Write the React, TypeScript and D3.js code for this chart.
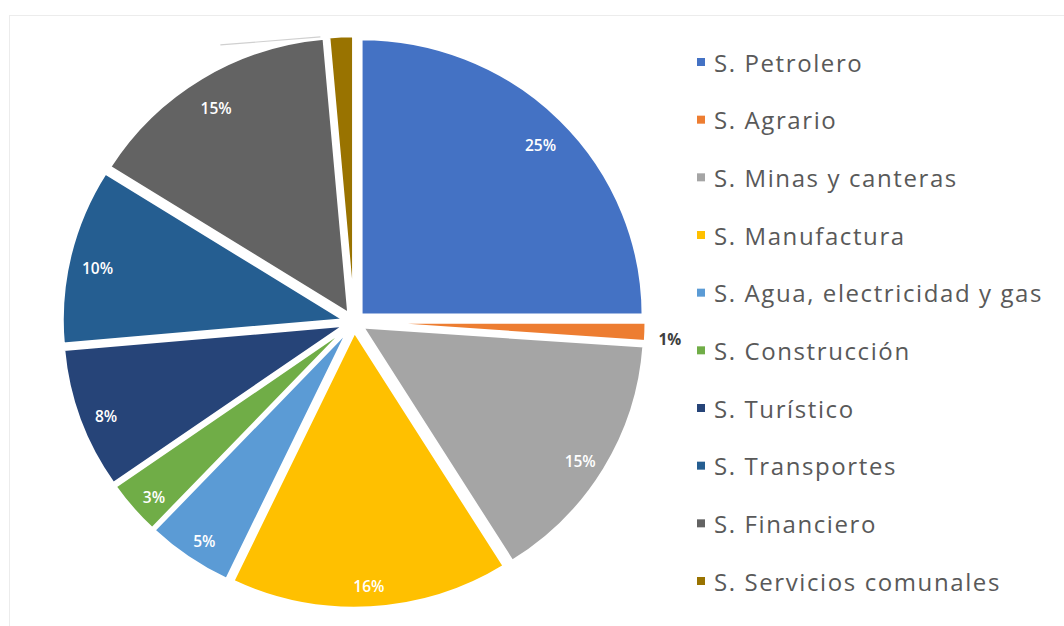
import React from "react";
import * as d3 from "d3";

const categories = [
  "S. Petrolero",
  "S. Agrario",
  "S. Minas y canteras",
  "S. Manufactura",
  "S. Agua, electricidad y gas",
  "S. Construcción",
  "S. Turístico",
  "S. Transportes",
  "S. Financiero",
  "S. Servicios comunales",
];
const values = [25, 1.1, 15, 16, 5, 3.2, 8.3, 10.3, 14.7, 1.4];
const labels = ["25%", "1%", "15%", "16%", "5%", "3%", "8%", "10%", "15%", ""];
const colors = [
  "#4472C4",
  "#ED7D31",
  "#A5A5A5",
  "#FFC000",
  "#5B9BD5",
  "#70AD47",
  "#264478",
  "#255E91",
  "#636363",
  "#997300",
];

const W = 1064;
const H = 626;
const FONT = "'Open Sans', Lato, 'DejaVu Sans', sans-serif";

export default function App() {
  const cx = 354;
  const cy = 322;
  const r = 282;
  const sy = 0.98;
  const explode = 10;

  const pie = d3.pie<number>().sort(null).value((d) => d);
  const arcs = pie(values);
  const arc = d3.arc<d3.PieArcDatum<number>>().innerRadius(0).outerRadius(r);

  const legendY = d3
    .scalePoint<string>()
    .domain(categories)
    .range([62, 581]);

  return (
    <svg
      width={W}
      height={H}
      style={{ position: "absolute", left: 0, top: 0, background: "#fff" }}
      fontFamily={FONT}
    >
      <rect x={9.5} y={15.5} width={W} height={H} fill="none" stroke="#ececec" />
      <g transform={`translate(${cx},${cy}) scale(1,${sy})`}>
        {arcs.map((a, i) => {
          const mid = (a.startAngle + a.endAngle) / 2;
          const ox = Math.sin(mid) * explode;
          const oy = -Math.cos(mid) * explode;
          return (
            <path
              key={i}
              d={arc(a) || ""}
              transform={`translate(${ox},${oy})`}
              fill={colors[i]}
              stroke="#fff"
              strokeWidth={3}
              strokeLinejoin="round"
            />
          );
        })}
      </g>
      {(() => {
        const a = arcs[8];
        const ang = a.endAngle;
        const x0 = cx + Math.sin(ang) * (r + explode) - 8;
        const y0 = cy - Math.cos(ang) * (r + explode) * sy;
        return (
          <line x1={x0} y1={y0} x2={x0 - 100} y2={y0 + 8} stroke="#d0d0d0" strokeWidth={1.2} />
        );
      })()}
      {arcs.map((a, i) => {
        if (!labels[i]) return null;
        const mid = (a.startAngle + a.endAngle) / 2;
        const small = values[i] < 2;
        const dist = small ? r + explode + 24 : explode + r * 0.9;
        const x = cx + Math.sin(mid) * dist;
        const y = cy - Math.cos(mid) * dist * sy + 6;
        return (
          <text
            key={i}
            x={x}
            y={y}
            textAnchor="middle"
            dominantBaseline="central"
            fontSize={15.5}
            fontWeight={small ? 700 : 600}
            fill={small ? "#404040" : "#ffffff"}
          >
            {labels[i]}
          </text>
        );
      })}
      {categories.map((c, i) => {
        const y = legendY(c) as number;
        return (
          <g key={c}>
            <rect x={697} y={y - 4} width={8} height={8} fill={colors[i]} />
            <text
              x={714}
              y={y}
              dominantBaseline="central"
              fontSize={24}
              letterSpacing={1.6}
              fill="#595959"
            >
              {c}
            </text>
          </g>
        );
      })}
    </svg>
  );
}
